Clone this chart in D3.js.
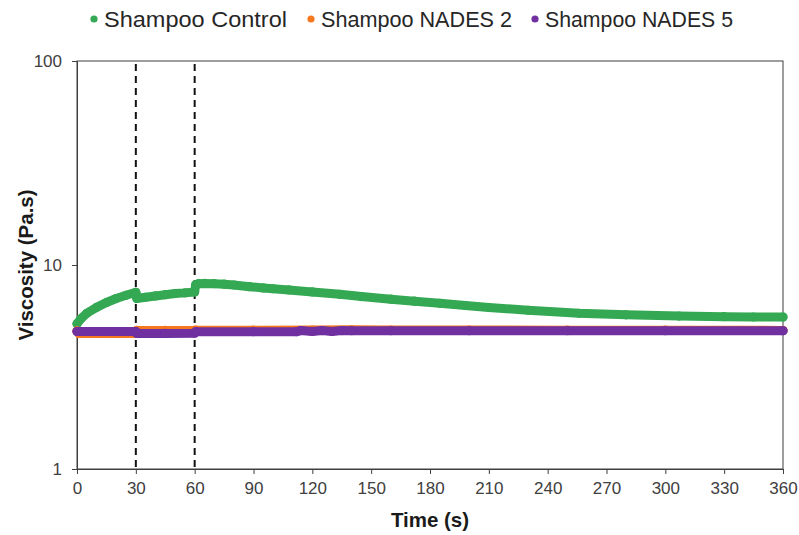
<!DOCTYPE html>
<html>
<head>
<meta charset="utf-8">
<script src="https://cdn.jsdelivr.net/npm/d3@7"></script>
<style>
  html, body { margin: 0; padding: 0; background: #fff; }
  svg { display: block; }
</style>
</head>
<body>
<svg id="chart" width="799" height="535"></svg>
<script>
// Viscosity over time for three shampoo formulations (log scale),
// with step changes in shear at 30 s and 60 s.

const seriesNames = ["Shampoo Control", "Shampoo NADES 2", "Shampoo NADES 5"];
const seriesColors = ["#34a853", "#f5781e", "#7030a0"];

const controlTime = [0, 2, 5, 10, 15, 20, 25, 30,
  30.5, 35, 40, 45, 50, 55, 60,
  60.5, 62, 65, 70, 75, 80, 88, 95, 100, 108, 120, 134, 145, 160, 172, 185,
  198, 210, 230, 256, 280, 307, 330, 345, 360];
const controlViscosity = [5.15, 5.45, 5.8, 6.2, 6.55, 6.85, 7.1, 7.35,
  6.85, 6.95, 7.05, 7.15, 7.25, 7.3, 7.38,
  8.0, 8.1, 8.12, 8.1, 8.05, 7.98, 7.83, 7.72, 7.65, 7.55, 7.38, 7.18, 7.0, 6.8, 6.65, 6.49,
  6.33, 6.19, 6.0, 5.8, 5.7, 5.62, 5.58, 5.56, 5.56];

const nades2Time = [0, 1, 10, 20, 30, 30.5, 45, 60, 60.5, 90, 120, 140, 160, 200, 250, 300, 360];
const nades2Viscosity = [4.75, 4.62, 4.62, 4.62, 4.62, 4.78, 4.78, 4.78, 4.79, 4.79, 4.8, 4.81, 4.8, 4.8, 4.79, 4.79, 4.78];

const nades5Time = [0, 10, 20, 30, 30.5, 45, 60, 60.5, 90, 112, 114, 120, 125, 130, 135, 140, 160, 200, 250, 300, 360];
const nades5Viscosity = [4.72, 4.72, 4.72, 4.72, 4.62, 4.62, 4.63, 4.71, 4.71, 4.71, 4.77, 4.72, 4.77, 4.72, 4.77, 4.76, 4.76, 4.76, 4.76, 4.76, 4.76];

const xTicks = [0, 30, 60, 90, 120, 150, 180, 210, 240, 270, 300, 330, 360];
const yTicks = [1, 10, 100];
const stepTimes = [30, 60];

const series = [
  { name: seriesNames[0], color: seriesColors[0], t: controlTime, v: controlViscosity },
  { name: seriesNames[1], color: seriesColors[1], t: nades2Time, v: nades2Viscosity },
  { name: seriesNames[2], color: seriesColors[2], t: nades5Time, v: nades5Viscosity }
];

const W = 799, H = 535;
const margin = { top: 61, right: 16, bottom: 66, left: 77 };

const svg = d3.select("#chart");
const x = d3.scaleLinear().domain([0, 360]).range([margin.left, W - margin.right]);
const y = d3.scaleLog().domain([1, 100]).range([H - margin.bottom, margin.top]);

const axisColor = "#3f3f3f";
const labelColor = "#404040";

// Plot frame (top and right edges)
svg.append("rect")
  .attr("x", x(0)).attr("y", y(100))
  .attr("width", x(360) - x(0)).attr("height", y(1) - y(100))
  .attr("fill", "none").attr("stroke", axisColor).attr("stroke-width", 1);

// X axis
const xAxis = svg.append("g")
  .attr("transform", `translate(0,${y(1)})`)
  .call(d3.axisBottom(x).tickValues(xTicks).tickSize(5).tickSizeOuter(0).tickPadding(8));
xAxis.select(".domain").attr("stroke", axisColor);
xAxis.selectAll(".tick line").attr("stroke", axisColor);
xAxis.selectAll(".tick text")
  .attr("fill", labelColor)
  .style("font-family", "'Liberation Sans', Arial, sans-serif")
  .style("font-size", "17px");

// Y axis
const yAxis = svg.append("g")
  .attr("transform", `translate(${x(0)},0)`)
  .call(d3.axisLeft(y).tickValues(yTicks).tickFormat(d3.format("d")).tickSize(5).tickSizeOuter(0).tickPadding(10));
yAxis.select(".domain").attr("stroke", axisColor);
yAxis.selectAll(".tick line").attr("stroke", axisColor);
yAxis.selectAll(".tick text")
  .attr("fill", labelColor)
  .style("font-family", "'Liberation Sans', Arial, sans-serif")
  .style("font-size", "17px");

// Step markers
svg.append("g").selectAll("line")
  .data(stepTimes)
  .join("line")
  .attr("x1", d => x(d)).attr("x2", d => x(d))
  .attr("y1", y(100) + 3).attr("y2", y(1))
  .attr("stroke", "#111").attr("stroke-width", 2)
  .attr("stroke-dasharray", "7,5");

// Series: thick rounded trace with dot markers on the readings
const line = d3.line().x(d => x(d[0])).y(d => y(d[1]));
const gSeries = svg.append("g");
series.forEach(s => {
  const pts = s.t.map((t, i) => [t, s.v[i]]);
  gSeries.append("path")
    .datum(pts)
    .attr("d", line)
    .attr("fill", "none")
    .attr("stroke", s.color)
    .attr("stroke-width", 9)
    .attr("stroke-linecap", "round")
    .attr("stroke-linejoin", "round");
  gSeries.append("g").selectAll("circle")
    .data(pts)
    .join("circle")
    .attr("cx", d => x(d[0]))
    .attr("cy", d => y(d[1]))
    .attr("r", 4.6)
    .attr("fill", s.color);
});

// Axis titles
svg.append("text")
  .attr("x", (x(0) + x(360)) / 2).attr("y", 527)
  .attr("text-anchor", "middle")
  .attr("fill", "#1a1a1a")
  .style("font-family", "'Liberation Sans', Arial, sans-serif")
  .style("font-weight", "bold")
  .style("font-size", "20.5px")
  .text("Time (s)");

svg.append("text")
  .attr("transform", `translate(33,${(y(1) + y(100)) / 2}) rotate(-90)`)
  .attr("text-anchor", "middle")
  .attr("fill", "#1a1a1a")
  .style("font-family", "'Liberation Sans', Arial, sans-serif")
  .style("font-weight", "bold")
  .style("font-size", "20.5px")
  .text("Viscosity (Pa.s)");

// Legend
const legendX = [94, 311, 535];
const legendTextWidth = [183, 191, 188];
const legend = svg.append("g");
series.forEach((s, i) => {
  legend.append("circle")
    .attr("cx", legendX[i]).attr("cy", 19).attr("r", 3.6)
    .attr("fill", s.color);
  legend.append("text")
    .attr("x", legendX[i] + 10).attr("y", 27)
    .attr("fill", "#262626")
    .attr("textLength", legendTextWidth[i])
    .attr("lengthAdjust", "spacingAndGlyphs")
    .style("font-family", "'Liberation Sans', Arial, sans-serif")
    .style("font-size", "22px")
    .text(s.name);
});
</script>
</body>
</html>
